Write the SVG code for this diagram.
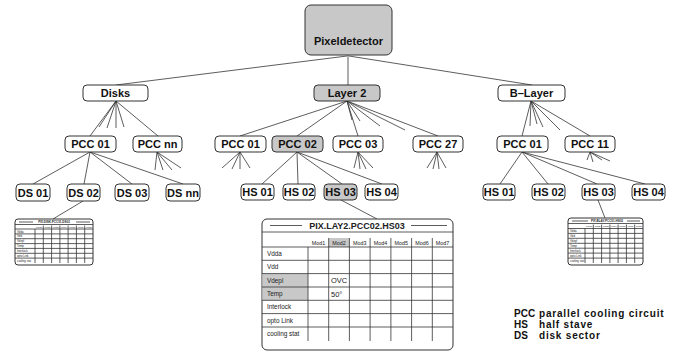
<svg xmlns="http://www.w3.org/2000/svg" width="682" height="352" viewBox="0 0 682 352">
<style>
.n rect{fill:#fff;stroke:#333;stroke-width:1}
.n.g rect{fill:#c8c8c8}
.n text{font-family:"Liberation Sans",Arial,sans-serif;font-weight:bold;font-size:11px;text-anchor:middle;fill:#111}
.c line{stroke:#333;stroke-width:0.8}
.tb .o{fill:#fff;stroke:#333;stroke-width:1}
.tb line{stroke:#333;stroke-width:0.8}
.tb .gc{fill:#c8c8c8;stroke:none}
.tb text{font-family:"Liberation Sans",Arial,sans-serif;fill:#222}
.ti{font-weight:bold;font-size:9px;text-anchor:middle}
.mh{font-size:5.4px;text-anchor:middle}
.rl{font-size:6.4px}
.cv{font-size:7.5px}
.sm text{font-size:2.8px}
.sm .st{font-size:3px;font-weight:bold;text-anchor:middle}
.sm .sh{text-anchor:middle;font-size:2.4px}
.lg text{font-family:"Liberation Sans",Arial,sans-serif;font-weight:bold;font-size:10px;fill:#111}
.lg .d{letter-spacing:0.8px}
</style>

<g class="c" id="connectors">
<line x1="348" y1="55" x2="348" y2="85"/>
<line x1="347" y1="56" x2="116" y2="85"/>
<line x1="349" y1="56" x2="532" y2="85"/>
<line x1="116" y1="101" x2="90" y2="136"/>
<line x1="116" y1="101" x2="99" y2="127"/>
<line x1="116" y1="101" x2="107" y2="128"/>
<line x1="116" y1="101" x2="116" y2="128"/>
<line x1="116" y1="101" x2="124" y2="127"/>
<line x1="116" y1="101" x2="158" y2="136"/>
<line x1="157" y1="152" x2="155" y2="170"/>
<line x1="157" y1="152" x2="163" y2="170"/>
<line x1="157" y1="152" x2="172" y2="170"/>
<line x1="157" y1="152" x2="181" y2="168"/>
<line x1="90" y1="152" x2="33" y2="184"/>
<line x1="90" y1="152" x2="84" y2="184"/>
<line x1="90" y1="152" x2="132" y2="184"/>
<line x1="90" y1="152" x2="183" y2="184"/>
<line x1="347" y1="101" x2="240" y2="136"/>
<line x1="347" y1="101" x2="297" y2="136"/>
<line x1="347" y1="101" x2="358" y2="136"/>
<line x1="347" y1="101" x2="438" y2="136"/>
<line x1="347" y1="101" x2="352" y2="120"/>
<line x1="347" y1="101" x2="360" y2="121"/>
<line x1="347" y1="101" x2="380" y2="126"/>
<line x1="347" y1="101" x2="405" y2="130"/>
<line x1="240" y1="152" x2="222" y2="168"/>
<line x1="240" y1="152" x2="232" y2="169"/>
<line x1="240" y1="152" x2="240" y2="169"/>
<line x1="240" y1="152" x2="250" y2="168"/>
<line x1="297" y1="152" x2="262" y2="184"/>
<line x1="297" y1="152" x2="298" y2="184"/>
<line x1="297" y1="152" x2="342" y2="184"/>
<line x1="297" y1="152" x2="382" y2="184"/>
<line x1="358" y1="152" x2="354" y2="168"/>
<line x1="358" y1="152" x2="360" y2="169"/>
<line x1="358" y1="152" x2="366" y2="169"/>
<line x1="358" y1="152" x2="373" y2="168"/>
<line x1="437" y1="152" x2="427" y2="168"/>
<line x1="437" y1="152" x2="433" y2="169"/>
<line x1="437" y1="152" x2="439" y2="169"/>
<line x1="437" y1="152" x2="446" y2="168"/>
<line x1="531" y1="101" x2="522" y2="136"/>
<line x1="531" y1="101" x2="590" y2="136"/>
<line x1="531" y1="101" x2="530" y2="126"/>
<line x1="531" y1="101" x2="537" y2="124"/>
<line x1="531" y1="101" x2="543" y2="127"/>
<line x1="531" y1="101" x2="560" y2="130"/>
<line x1="590" y1="152" x2="587" y2="160"/>
<line x1="590" y1="152" x2="593" y2="162"/>
<line x1="590" y1="152" x2="602" y2="160"/>
<line x1="590" y1="152" x2="610" y2="161"/>
<line x1="522" y1="152" x2="500" y2="184"/>
<line x1="522" y1="152" x2="548" y2="184"/>
<line x1="522" y1="152" x2="597" y2="184"/>
<line x1="522" y1="152" x2="645" y2="184"/>
<line x1="83" y1="201" x2="53" y2="219"/>
<line x1="341" y1="200" x2="377" y2="219"/>
<line x1="598" y1="200" x2="605" y2="218"/>
</g>

<g id="pixeldetector" class="n g"><rect x="305" y="5" width="87" height="50" rx="6"/><text x="348.5" y="45">Pixeldetector</text></g>
<g id="disks" class="n"><rect x="83" y="85" width="65" height="16" rx="4"/><text x="115.5" y="97">Disks</text></g>
<g id="layer2" class="n g"><rect x="314" y="85" width="66" height="16" rx="4"/><text x="347" y="97">Layer 2</text></g>
<g id="blayer" class="n"><rect x="498" y="85" width="67" height="16" rx="4"/><text x="531.5" y="97">B–Layer</text></g>

<g id="d-pcc01" class="n"><rect x="65" y="136" width="51" height="16" rx="4"/><text x="90.5" y="148">PCC 01</text></g>
<g id="d-pccnn" class="n"><rect x="133" y="136" width="49" height="16" rx="4"/><text x="157.5" y="148">PCC nn</text></g>
<g id="l-pcc01" class="n"><rect x="215" y="136" width="51" height="16" rx="4"/><text x="240.5" y="148">PCC 01</text></g>
<g id="l-pcc02" class="n g"><rect x="272" y="136" width="51" height="16" rx="4"/><text x="297.5" y="148">PCC 02</text></g>
<g id="l-pcc03" class="n"><rect x="333" y="136" width="50" height="16" rx="4"/><text x="358" y="148">PCC 03</text></g>
<g id="l-pcc27" class="n"><rect x="413" y="136" width="50" height="16" rx="4"/><text x="438" y="148">PCC 27</text></g>
<g id="b-pcc01" class="n"><rect x="497" y="136" width="51" height="16" rx="4"/><text x="522.5" y="148">PCC 01</text></g>
<g id="b-pcc11" class="n"><rect x="565" y="136" width="50" height="16" rx="4"/><text x="590" y="148">PCC 11</text></g>

<g id="ds01" class="n"><rect x="16" y="184" width="34" height="17" rx="4"/><text x="33" y="196.5">DS 01</text></g>
<g id="ds02" class="n"><rect x="67" y="184" width="33" height="17" rx="4"/><text x="83.5" y="196.5">DS 02</text></g>
<g id="ds03" class="n"><rect x="115" y="184" width="34" height="17" rx="4"/><text x="132" y="196.5">DS 03</text></g>
<g id="dsnn" class="n"><rect x="166" y="184" width="34" height="17" rx="4"/><text x="183" y="196.5">DS nn</text></g>
<g id="l-hs01" class="n"><rect x="241" y="184" width="33" height="16" rx="4"/><text x="257.5" y="196">HS 01</text></g>
<g id="l-hs02" class="n"><rect x="283" y="184" width="32" height="16" rx="4"/><text x="299" y="196">HS 02</text></g>
<g id="l-hs03" class="n g"><rect x="324" y="184" width="33" height="16" rx="4"/><text x="340.5" y="196">HS 03</text></g>
<g id="l-hs04" class="n"><rect x="365" y="184" width="33" height="16" rx="4"/><text x="381.5" y="196">HS 04</text></g>
<g id="b-hs01" class="n"><rect x="483" y="184" width="32" height="16" rx="4"/><text x="499" y="196">HS 01</text></g>
<g id="b-hs02" class="n"><rect x="532" y="184" width="33" height="16" rx="4"/><text x="548.5" y="196">HS 02</text></g>
<g id="b-hs03" class="n"><rect x="582" y="184" width="33" height="16" rx="4"/><text x="598.5" y="196">HS 03</text></g>
<g id="b-hs04" class="n"><rect x="632" y="184" width="33" height="16" rx="4"/><text x="648.5" y="196">HS 04</text></g>

<g id="table-main" class="tb">
<rect class="o" x="262" y="219" width="191" height="131" rx="5"/>
<rect class="gc" x="328.7" y="238" width="20.7" height="9"/>
<rect class="gc" x="262.5" y="273.6" width="45.5" height="26.7"/>
<text class="ti" x="357" y="229">PIX.LAY2.PCC02.HS03</text>
<line x1="270" y1="225.5" x2="302" y2="225.5"/>
<line x1="411" y1="225.5" x2="447" y2="225.5"/>
<line x1="262" y1="232" x2="453" y2="232"/>
<line x1="262" y1="247" x2="453" y2="247"/>
<line x1="262" y1="260.3" x2="453" y2="260.3"/>
<line x1="262" y1="273.6" x2="453" y2="273.6"/>
<line x1="262" y1="287" x2="453" y2="287"/>
<line x1="262" y1="300.3" x2="453" y2="300.3"/>
<line x1="262" y1="313.6" x2="453" y2="313.6"/>
<line x1="262" y1="327" x2="453" y2="327"/>
<line x1="308" y1="247" x2="308" y2="341"/>
<line x1="328.7" y1="238" x2="328.7" y2="341"/>
<line x1="349.4" y1="238" x2="349.4" y2="341"/>
<line x1="370.1" y1="238" x2="370.1" y2="341"/>
<line x1="390.9" y1="238" x2="390.9" y2="341"/>
<line x1="411.6" y1="238" x2="411.6" y2="341"/>
<line x1="432.3" y1="238" x2="432.3" y2="341"/>
<text class="mh" x="318.4" y="244.5">Mod1</text>
<text class="mh" x="339.1" y="244.5">Mod2</text>
<text class="mh" x="359.8" y="244.5">Mod3</text>
<text class="mh" x="380.5" y="244.5">Mod4</text>
<text class="mh" x="401.2" y="244.5">Mod5</text>
<text class="mh" x="421.9" y="244.5">Mod6</text>
<text class="mh" x="442.6" y="244.5">Mod7</text>
<text class="rl" x="267" y="256">Vdda</text>
<text class="rl" x="267" y="269.3">Vdd</text>
<text class="rl" x="267" y="282.6">Vdepl</text>
<text class="rl" x="267" y="296">Temp</text>
<text class="rl" x="267" y="309.3">Interlock</text>
<text class="rl" x="267" y="322.6">opto Link</text>
<text class="rl" x="267" y="336">cooling stat</text>
<text class="cv" x="331" y="283.3">OVC</text>
<text class="cv" x="331" y="296.6">50°</text>
</g>

<g id="table-disk" class="tb sm">
<rect class="o" x="15" y="219" width="78" height="46" rx="3"/>
<text class="st" x="54" y="223.2">PIX.DISK.PCC01.DS02</text>
<line x1="19" y1="222" x2="33" y2="222"/>
<line x1="76" y1="222" x2="90" y2="222"/>
<line x1="15" y1="224.5" x2="93" y2="224.5"/>
<line x1="15" y1="229" x2="93" y2="229"/>
<line x1="15" y1="233.9" x2="93" y2="233.9"/>
<line x1="15" y1="238.7" x2="93" y2="238.7"/>
<line x1="15" y1="243.6" x2="93" y2="243.6"/>
<line x1="15" y1="248.4" x2="93" y2="248.4"/>
<line x1="15" y1="253.3" x2="93" y2="253.3"/>
<line x1="15" y1="258.1" x2="93" y2="258.1"/>
<line x1="35" y1="229" x2="35" y2="263"/>
<line x1="43.3" y1="225.5" x2="43.3" y2="263"/>
<line x1="51.6" y1="225.5" x2="51.6" y2="263"/>
<line x1="59.9" y1="225.5" x2="59.9" y2="263"/>
<line x1="68.1" y1="225.5" x2="68.1" y2="263"/>
<line x1="76.4" y1="225.5" x2="76.4" y2="263"/>
<line x1="84.7" y1="225.5" x2="84.7" y2="263"/>
<text class="sh" x="39.1" y="228">Mod1</text>
<text class="sh" x="47.4" y="228">Mod2</text>
<text class="sh" x="55.7" y="228">Mod3</text>
<text class="sh" x="64" y="228">Mod4</text>
<text class="sh" x="72.3" y="228">Mod5</text>
<text class="sh" x="80.6" y="228">Mod6</text>
<text class="sh" x="88.9" y="228">Mod7</text>
<text x="17" y="232.5">Vdda</text>
<text x="17" y="237.3">Vdd</text>
<text x="17" y="242.2">Vdepl</text>
<text x="17" y="247">Temp</text>
<text x="17" y="251.9">Interlock</text>
<text x="17" y="256.7">opto Link</text>
<text x="17" y="261.6">cooling stat</text>
</g>

<g id="table-blayer" class="tb sm">
<rect class="o" x="568" y="218" width="75" height="47" rx="3"/>
<text class="st" x="607" y="222.2">PIX.BLAY.PCC01.HS03</text>
<line x1="572" y1="221" x2="588" y2="221"/>
<line x1="627" y1="221" x2="640" y2="221"/>
<line x1="568" y1="223.5" x2="643" y2="223.5"/>
<line x1="568" y1="228.5" x2="643" y2="228.5"/>
<line x1="568" y1="233.4" x2="643" y2="233.4"/>
<line x1="568" y1="238.3" x2="643" y2="238.3"/>
<line x1="568" y1="243.3" x2="643" y2="243.3"/>
<line x1="568" y1="248.2" x2="643" y2="248.2"/>
<line x1="568" y1="253.1" x2="643" y2="253.1"/>
<line x1="568" y1="258.1" x2="643" y2="258.1"/>
<line x1="585" y1="228.5" x2="585" y2="263"/>
<line x1="593.3" y1="224.5" x2="593.3" y2="263"/>
<line x1="601.6" y1="224.5" x2="601.6" y2="263"/>
<line x1="609.9" y1="224.5" x2="609.9" y2="263"/>
<line x1="618.1" y1="224.5" x2="618.1" y2="263"/>
<line x1="626.4" y1="224.5" x2="626.4" y2="263"/>
<line x1="634.7" y1="224.5" x2="634.7" y2="263"/>
<text class="sh" x="589.1" y="227.3">Mod1</text>
<text class="sh" x="597.4" y="227.3">Mod2</text>
<text class="sh" x="605.7" y="227.3">Mod3</text>
<text class="sh" x="614" y="227.3">Mod4</text>
<text class="sh" x="622.3" y="227.3">Mod5</text>
<text class="sh" x="630.6" y="227.3">Mod6</text>
<text class="sh" x="638.9" y="227.3">Mod7</text>
<text x="570" y="232">Vdda</text>
<text x="570" y="236.9">Vdd</text>
<text x="570" y="241.8">Vdepl</text>
<text x="570" y="246.8">Temp</text>
<text x="570" y="251.7">Interlock</text>
<text x="570" y="256.6">opto Link</text>
<text x="570" y="261.6">cooling stat</text>
</g>

<g id="legend" class="lg">
<text x="514" y="316.5">PCC</text><text class="d" x="539" y="316.5">parallel cooling circuit</text>
<text x="514" y="327.5">HS</text><text class="d" x="539" y="327.5">half stave</text>
<text x="514" y="338.5">DS</text><text class="d" x="539" y="338.5">disk sector</text>
</g>
</svg>
